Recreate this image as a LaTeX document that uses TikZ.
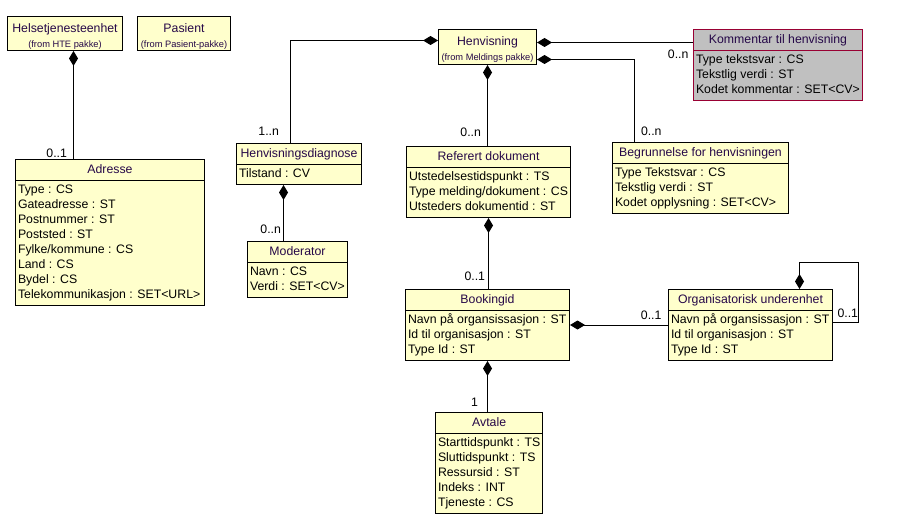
\documentclass[tikz,border=0pt]{standalone}
\usepackage{fontspec}
\setmainfont{Liberation Sans}
\usetikzlibrary{arrows.meta,shapes.multipart}
\definecolor{umlfill}{RGB}{255,255,204}
\definecolor{umlname}{RGB}{38,8,72}
\definecolor{notefill}{RGB}{192,192,192}
\definecolor{noteline}{RGB}{153,0,51}
\newcommand{\umlfont}{\fontsize{12.3}{15}\selectfont}
\newcommand{\fromfont}{\fontsize{9.3}{11}\selectfont}
\newcommand{\cname}[1]{\textcolor{umlname}{\rule[-4.5pt]{0pt}{16pt}#1}}
\newcommand{\pname}[2]{\textcolor{umlname}{\rule{0pt}{14pt}#1}\\{\fromfont\textcolor{umlname}{(from #2)}}}
\newcommand{\attrs}[1]{\strut#1\strut}

\begin{document}
\begin{tikzpicture}[x=1pt,y=-1pt,
cls/.style={rectangle split,rectangle split parts=2,rectangle split part align={center,left},draw,line width=1pt,fill=umlfill,align=left,anchor=north west,inner xsep=2.5pt,inner ysep=2pt,font=\umlfont},
pkg/.style={draw,line width=1pt,fill=umlfill,align=center,anchor=north west,inner sep=1pt,font=\umlfont},
comp/.style={{Diamond[length=15pt,width=9pt]}-,line width=1pt},
mult/.style={font=\umlfont,inner sep=0pt}]
\useasboundingbox (0,0) rectangle (903,532);
% packages
\node[pkg,minimum width=115,minimum height=34] (helse) at (7,16) {\pname{Helsetjenesteenhet}{HTE pakke}};
\node[pkg,minimum width=93,minimum height=34] (pasient) at (137,16) {\pname{Pasient}{Pasient-pakke}};
\node[pkg,minimum width=98,minimum height=35] (henv) at (438,29) {\pname{Henvisning}{Meldings pakke}};
% classes
\node[cls,minimum width=189] (adresse) at (15,159) {\cname{Adresse}\nodepart{two}\attrs{Type : CS\\Gateadresse : ST\\Postnummer : ST\\Poststed : ST\\Fylke/kommune : CS\\Land : CS\\Bydel : CS\\Telekommunikasjon : SET<URL>}};
\node[cls,minimum width=125] (diag) at (236,143) {\cname{Henvisningsdiagnose}\nodepart{two}\attrs{Tilstand : CV}};
\node[cls,minimum width=100] (moderator) at (247,241) {\cname{Moderator}\nodepart{two}\attrs{Navn : CS\\Verdi : SET<CV>}};
\node[cls,minimum width=163] (refdok) at (406,146) {\cname{Referert dokument}\nodepart{two}\attrs{Utstedelsestidspunkt : TS\\Type melding/dokument : CS\\Utsteders dokumentid : ST}};
\node[cls,minimum width=169,draw=noteline,fill=notefill] (kommentar) at (693,29) {\cname{Kommentar til henvisning}\nodepart{two}\attrs{Type tekstsvar : CS\\Tekstlig verdi : ST\\Kodet kommentar : SET<CV>}};
\node[cls,minimum width=176] (begrunn) at (612,142) {\cname{Begrunnelse for henvisningen}\nodepart{two}\attrs{Type Tekstsvar : CS\\Tekstlig verdi : ST\\Kodet opplysning : SET<CV>}};
\node[cls,minimum width=164] (booking) at (405,289) {\cname{Bookingid}\nodepart{two}\attrs{Navn på organsissasjon : ST\\Id til organisasjon : ST\\Type Id : ST}};
\node[cls,minimum width=164] (orgenhet) at (668,289) {\cname{Organisatorisk underenhet}\nodepart{two}\attrs{Navn på organsissasjon : ST\\Id til organisasjon : ST\\Type Id : ST}};
\node[cls,minimum width=104] (avtale) at (435,412) {\cname{Avtale}\nodepart{two}\attrs{Starttidspunkt : TS\\Sluttidspunkt : TS\\Ressursid : ST\\Indeks : INT\\Tjeneste : CS}};
% compositions
\draw[comp] ([xshift=8.5]helse.south) -- ([xshift=8.5]helse.south |- adresse.north) node[mult,anchor=south east,xshift=-6,yshift=1] {0..1};
\draw[comp] ([yshift=6.5]henv.west) -| ([xshift=-8.5]diag.north) node[mult,anchor=south east,xshift=-11,yshift=6.5] {1..n};
\draw[comp] ([xshift=-15.5]diag.south) -- ([xshift=-15.5]diag.south |- moderator.north) node[mult,anchor=south east,xshift=-2,yshift=6.5] {0..n};
\draw[comp] ([yshift=4.5]henv.east) -- ([yshift=4.5]henv.east -| kommentar.west) node[mult,anchor=north east,xshift=-4,yshift=-6.5] {0..n};
\draw[comp] ([yshift=-12.5]henv.east) -| ([xshift=-66]begrunn.north) node[mult,anchor=south west,xshift=6,yshift=5.5] {0..n};
\foreach \a/\b/\m/\dx/\dy in {henv/refdok/0..n/-6/8.5,refdok/booking/0..1/-3/7.5,booking/avtale/1/-9/5.5}
  {\draw[comp] (\a.south) -- (\a.south |- \b.north) node[mult,anchor=south east,xshift=\dx,yshift=\dy] {\m};}
\draw[comp] (booking.east) -- (booking.east -| orgenhet.west) node[mult,anchor=south east,xshift=-6,yshift=5] {0..1};
\draw[comp] ([xshift=49]orgenhet.north) -- ++(0,-27) -| ([xshift=25,yshift=2.5]orgenhet.east) -- ([yshift=2.5]orgenhet.east) node[mult,anchor=south west,xshift=4,yshift=4.5] {0..1};
\end{tikzpicture}
\end{document}
